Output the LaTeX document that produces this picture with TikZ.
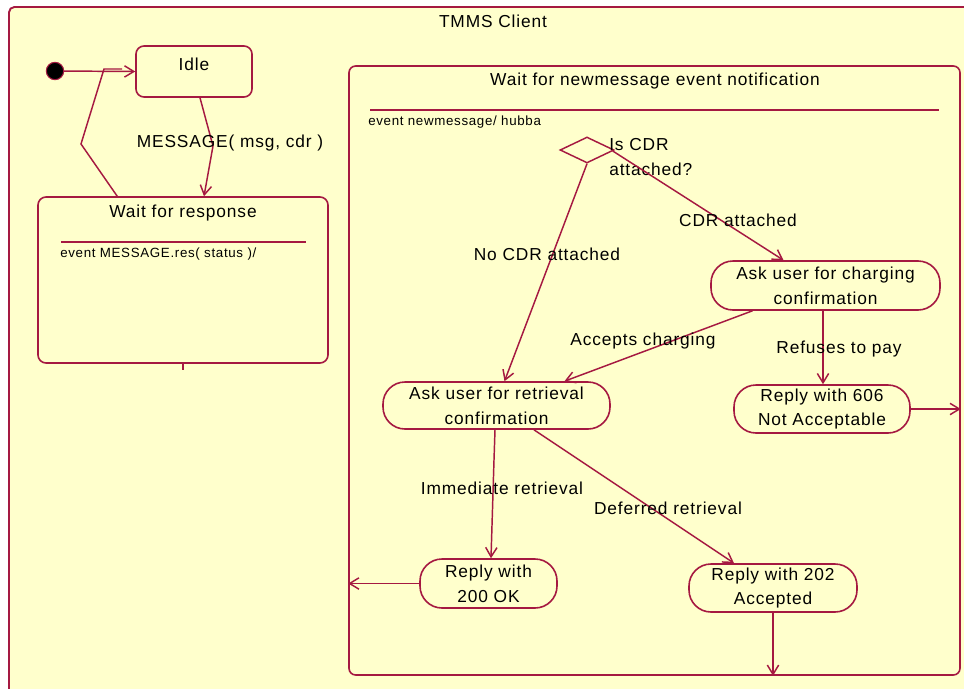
\documentclass[tikz,border=0pt]{standalone}
\usepackage{fontspec}
\setmainfont{Liberation Sans}[LetterSpace=5]
\usetikzlibrary{arrows.meta,fit,calc,shapes.geometric}
\definecolor{ln}{RGB}{165,25,65}
\definecolor{bg}{RGB}{255,255,204}
\begin{document}
\begin{tikzpicture}[x=0.75pt,y=-0.75pt,
  txt/.style={inner sep=0pt, font=\fontsize{13}{18.5}\selectfont, align=center, text=black},
  smalltxt/.style={inner sep=0pt, font=\fontsize{10}{12}\selectfont, text=black, anchor=west},
  statebox/.style={draw=ln, line width=1.2pt, inner sep=0pt, rounded corners=6pt},
  actbox/.style={draw=ln, line width=1.2pt, inner sep=0pt, rounded corners=16.5pt},
  conn/.style={draw=ln, line width=1.1pt, -{Straight Barb[length=7pt,width=8.5pt,line width=1.1pt]}},
  plain/.style={draw=ln, line width=1.1pt}
]
\useasboundingbox (0,0) rectangle (964,689);
\fill[white] (0,0) rectangle (964,689);
% outer state
\node[fit={(9,7) (985,705)}, inner sep=0pt, draw=ln, fill=bg, line width=1.4pt, rounded corners=4pt] (client) {};
\node[txt] (clientt) at (493,21) {TMMS Client};

% initial and idle
\node[circle, fill=black, draw=ln, line width=0.8pt, minimum size=13pt, inner sep=0pt] (init) at (55,71) {};
\node[statebox, fit={(136,46) (252,97)}] (idle) {};
\node[txt] (idlet) at (194,64) {Idle};

% wait for response
\node[statebox, fit={(38,197) (328,363)}] (wfr) {};
\node[txt] (wfrt) at (183,213) {Wait for response};
\draw[plain] (61,242) -- (306,242);
\node[smalltxt] (wfre) at (60,254) {event MESSAGE.res( status )/};
\draw[plain] (wfr.south) -- ++(0,6);

% transitions left
\draw[conn] (init) -- (idle.west);
\coordinate (ret) at (122,69);
\draw[plain] ($(wfr.north west)+(80,0)$) -- (81,144) -- (104,69) -- (ret);
\draw[conn] ($(idle.south)+(6,0)$) -- (213,146) -- ($(wfr.north)+(21,0)$);
\node[txt] (msgl) at (230,143) {MESSAGE( msg, cdr )};

% inner state
\node[statebox, rounded corners=5pt, fit={(349,66) (960,675)}] (wait) {};
\node[txt] (waitt) at (655,81) {Wait for newmessage event notification};
\draw[plain] (370,110) -- (939,110);
\node[smalltxt] (waite) at (368,122) {event newmessage/ hubba};

% decision
\node[diamond, draw=ln, line width=1.1pt, minimum width=40.5pt, minimum height=19.5pt, inner sep=0pt] (dec) at (587,150) {};
\node[txt, anchor=west, align=left] (dect) at (609,157) {Is CDR\\attached?};

% activities
\node[actbox, fit={(711,261) (940,310)}] (ac) {};
\node[txt] (act) at (ac.center) {Ask user for charging\\confirmation};
\node[actbox, fit={(383,382) (610,429)}] (ar) {};
\node[txt] (art) at (ar.center) {Ask user for retrieval\\confirmation};
\node[actbox, fit={(734,385) (910,433)}] (r606) {};
\node[txt] (r606t) at (r606.center) {Reply with 606\\Not Acceptable};
\node[actbox, fit={(420,559) (557,608)}] (r200) {};
\node[txt] (r200t) at (r200.center) {Reply with\\200 OK};
\node[actbox, fit={(689,564) (857,612)}] (r202) {};
\node[txt] (r202t) at (r202.center) {Reply with 202\\Accepted};

% transitions inner
\draw[conn] ($(dec.east)+(-2,1)$) -- ($(ac.north)+(-42,0)$);
\node[txt] (l1) at (738,220) {CDR attached};
\draw[conn] (dec.south) -- ($(ar.north)+(8,0)$);
\node[txt] (l2) at (547,254) {No CDR attached};
\draw[conn] ($(ac.south)+(-73,0)$) -- ($(ar.north)+(68,0)$);
\node[txt] (l3) at (643,341) {Accepts charging};
\draw[conn] ($(ac.south)+(-2.5,0)$) -- ($(r606.north)+(1,0)$);
\node[txt] (l4) at (839,349) {Refuses to pay};
\draw[conn] (r606.east) -- (r606.east -| wait.east);
\draw[conn] ($(ar.south)+(-1.5,0)$) -- (494,460) -- ($(r200.north)+(2.5,0)$);
\node[txt] (l5) at (502,488) {Immediate retrieval};
\draw[conn] ($(ar.south)+(37.5,0)$) -- ($(r202.north)+(-39,0)$);
\node[txt] (l6) at (668,508) {Deferred retrieval};
\draw[conn] (r200.west) -- (r200.west -| wait.west);
\draw[conn] (r202.south) -- (r202.south |- wait.south);
\end{tikzpicture}
\end{document}
